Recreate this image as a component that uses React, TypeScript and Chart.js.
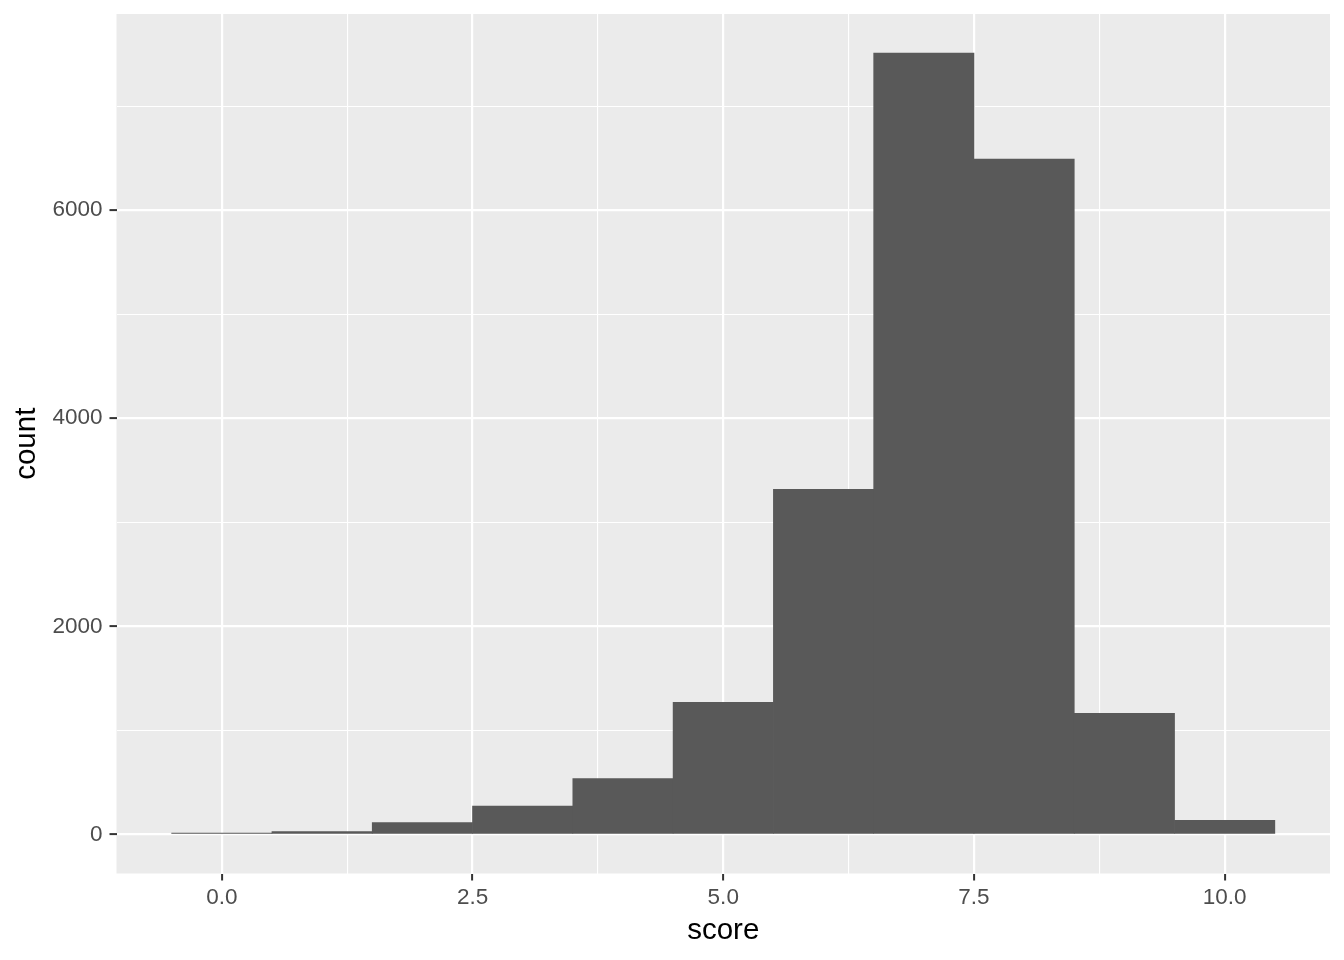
import React, { useEffect, useRef } from "react";
import { Chart, registerables } from "chart.js";

Chart.register(...registerables);

// Histogram bins (bin centres, width 1) and counts
const scoreBins = [0, 1, 2, 3, 4, 5, 6, 7, 8, 9, 10];
const counts = [12, 27, 115, 272, 538, 1269, 3317, 7510, 6490, 1163, 135];

// Axis breaks
const xMajorTicks = [0, 2.5, 5, 7.5, 10];
const xMinorTicks = [1.25, 3.75, 6.25, 8.75];
const xTickLabels = ["0.0", "2.5", "5.0", "7.5", "10.0"];
const yMajorTicks = [0, 2000, 4000, 6000];
const yMinorTicks = [1000, 3000, 5000, 7000];
const yTickLabels = ["0", "2000", "4000", "6000"];

const FONT = "'Liberation Sans', Arial, Helvetica, sans-serif";

const panelBg = {
  id: "panelBg",
  beforeDraw(chart: any) {
    const { ctx, chartArea } = chart;
    if (!chartArea) return;
    ctx.save();
    ctx.fillStyle = "#EBEBEB";
    ctx.fillRect(chartArea.left, chartArea.top, chartArea.right - chartArea.left, chartArea.bottom - chartArea.top);
    ctx.restore();
  },
};

export default function App() {
  const ref = useRef<HTMLCanvasElement | null>(null);

  useEffect(() => {
    if (!ref.current) return;
    Chart.defaults.font.family = FONT;

    const binWidth = 1;
    const xLo = scoreBins[0] - binWidth / 2;
    const xHi = scoreBins[scoreBins.length - 1] + binWidth / 2;
    const xPad = (xHi - xLo) * 0.05;
    const yMax = Math.max(...counts);
    const yPad = yMax * 0.05;

    const isMajor = (arr: number[], v: number) => arr.some((m) => Math.abs(m - v) < 1e-9);

    const chart = new Chart(ref.current, {
      type: "bar",
      data: {
        datasets: [
          {
            data: counts.map((c, i) => ({ x: scoreBins[i], y: c })),
            backgroundColor: "#595959",
            borderWidth: 0,
            barPercentage: 1,
            categoryPercentage: 1,
          },
        ],
      },
      options: {
        animation: false,
        responsive: true,
        maintainAspectRatio: false,
        layout: { padding: { top: 14, right: 14, left: 0, bottom: 0 } },
        plugins: { legend: { display: false }, tooltip: { enabled: false } },
        scales: {
          x: {
            type: "linear",
            offset: false,
            min: xLo - xPad,
            max: xHi + xPad,
            afterBuildTicks: (scale: any) => {
              scale.ticks = [...xMajorTicks, ...xMinorTicks].sort((a, b) => a - b).map((v) => ({ value: v }));
            },
            afterFit: (scale: any) => {
              scale.height = 86.5;
              scale.paddingLeft = 0;
              scale.paddingRight = 0;
            },
            border: { display: false },
            grid: {
              offset: false,
              color: "#FFFFFF",
              lineWidth: (ctx: any) => (isMajor(xMajorTicks, ctx.tick?.value) ? 2.2 : 1.1),
              tickColor: (ctx: any) => (isMajor(xMajorTicks, ctx.tick?.value) ? "#333333" : "rgba(0,0,0,0)"),
              tickLength: 7,
              tickWidth: 2,
            },
            ticks: {
              autoSkip: false,
              maxRotation: 0,
              padding: 6,
              color: "#4D4D4D",
              font: { size: 22.5, lineHeight: 1 },
              callback: (v: any) => {
                const i = xMajorTicks.findIndex((m) => Math.abs(m - Number(v)) < 1e-9);
                return i >= 0 ? xTickLabels[i] : "";
              },
            },
            title: {
              display: true,
              text: "score",
              color: "#000000",
              font: { size: 29.5, lineHeight: 1 },
              padding: { top: 0, bottom: 14.5 },
            },
          },
          y: {
            type: "linear",
            min: -yPad,
            max: yMax + yPad,
            afterBuildTicks: (scale: any) => {
              scale.ticks = [...yMajorTicks, ...yMinorTicks].sort((a, b) => a - b).map((v) => ({ value: v }));
            },
            afterFit: (scale: any) => {
              scale.width = 116.5;
              scale.paddingTop = 0;
              scale.paddingBottom = 0;
            },
            border: { display: false },
            grid: {
              color: "#FFFFFF",
              lineWidth: (ctx: any) => (isMajor(yMajorTicks, ctx.tick?.value) ? 2.2 : 1.1),
              tickColor: (ctx: any) => (isMajor(yMajorTicks, ctx.tick?.value) ? "#333333" : "rgba(0,0,0,0)"),
              tickLength: 7,
              tickWidth: 2,
            },
            ticks: {
              autoSkip: false,
              padding: 7,
              color: "#4D4D4D",
              font: { size: 22.5, lineHeight: 1 },
              callback: (v: any) => {
                const i = yMajorTicks.findIndex((m) => Math.abs(m - Number(v)) < 1e-9);
                return i >= 0 ? yTickLabels[i] : "";
              },
            },
            title: {
              display: true,
              text: "count",
              color: "#000000",
              font: { size: 29.5, lineHeight: 1 },
              padding: { top: 12, bottom: 0 },
            },
          },
        },
      },
      plugins: [panelBg],
    });

    return () => chart.destroy();
  }, []);

  return (
    <div style={{ position: "fixed", left: 0, top: 0, width: 1344, height: 960, background: "#FFFFFF" }}>
      <canvas ref={ref} />
    </div>
  );
}
